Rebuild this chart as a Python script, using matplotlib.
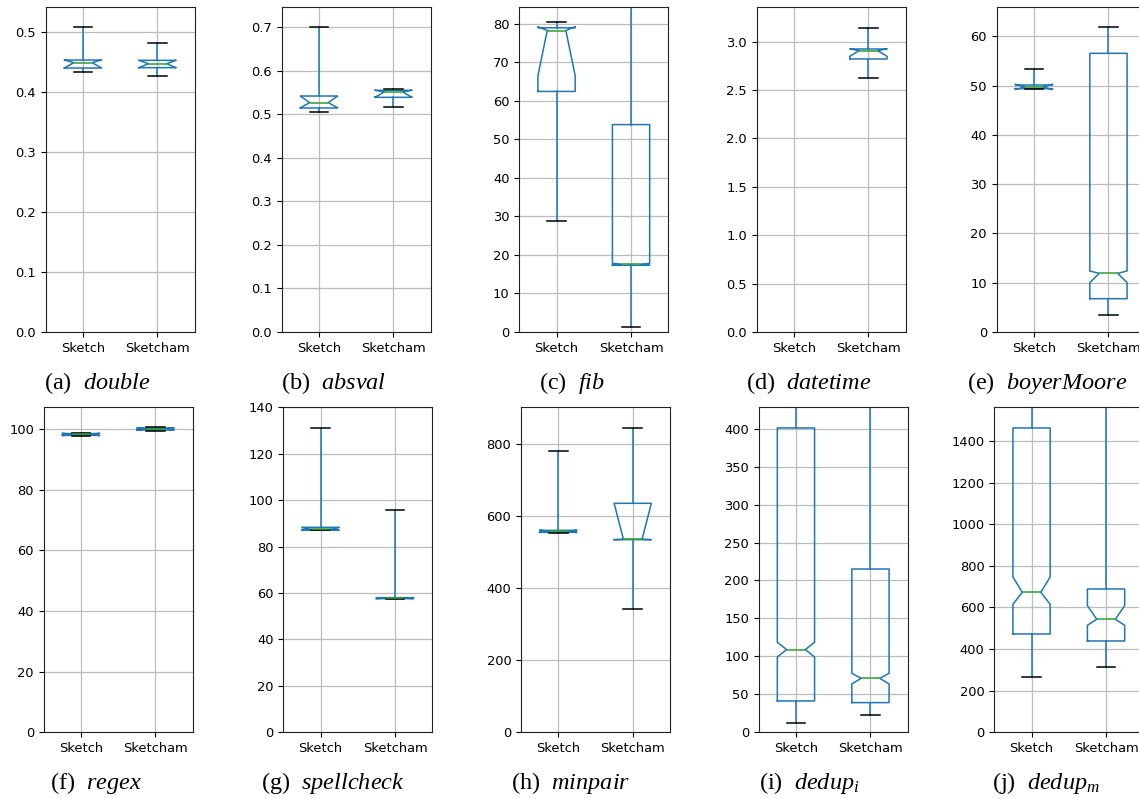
import matplotlib
matplotlib.use("Agg")
import matplotlib.pyplot as plt
import numpy as np

plt.rcParams['mathtext.fontset'] = 'custom'
plt.rcParams['mathtext.it'] = 'Liberation Serif:italic'
plt.rcParams['mathtext.rm'] = 'Liberation Serif'

# benchmark panels, two tools each
labels = ["Sketch", "Sketcham"]
names = ["double", "absval", "fib", "datetime", "boyerMoore",
         "regex", "spellcheck", "minpair", "dedup_i", "dedup_m"]
letters = list("abcdefghij")

# box statistics, one pair [Sketch, Sketcham] per panel
# (None = no data for that tool)
whishi = [[0.508, 0.481], [0.701, 0.559], [80.3, 95.0], [None, 3.146], [53.4, 61.8],
          [98.8, 100.6], [131.2, 95.6], [782.4, 846.3], [520.0, 520.0], [1800.0, 1800.0]]
q3 = [[0.4533, 0.4528], [0.5422, 0.5553], [78.9, 53.8], [None, 2.924], [50.12, 56.55],
      [98.5, 100.3], [88.3, 58.0], [561.0, 636.1], [400.9, 215.1], [1462.5, 688.8]]
cihi = [[0.4535, 0.4530], [0.5420, 0.5555], [79.2, 17.8], [None, 2.926], [50.3, 12.38],
        [98.6, 100.4], [88.2, 58.0], [561.5, 636.1], [118.6, 77.7], [746.5, 608.7]]
med = [[0.4489, 0.4472], [0.5270, 0.5514], [78.2, 17.6], [None, 2.907], [49.72, 11.9],
       [98.2, 100.0], [87.4, 57.8], [558.3, 536.1], [108.9, 71.1], [672.8, 543.0]]
cilo = [[0.4400, 0.4403], [0.5150, 0.5390], [66.5, 17.3], [None, 2.848], [49.2, 10.01],
        [97.8, 99.6], [87.0, 57.6], [555.0, 535.2], [99.2, 63.7], [615.1, 514.2]]
q1 = [[0.4400, 0.4406], [0.5147, 0.5392], [62.4, 17.3], [None, 2.821], [49.38, 6.76],
      [97.9, 99.7], [87.1, 57.6], [555.5, 535.2], [41.3, 39.1], [472.5, 438.9]]
whislo = [[0.4339, 0.4267], [0.5047, 0.517], [28.9, 1.38], [None, 2.621], [49.31, 3.45],
          [97.6, 99.5], [87.1, 57.6], [554.6, 343.5], [11.9, 22.8], [264.3, 315.6]]

ytop = [0.5417, 0.7467, 84.3, 3.358, 65.95, 107.15, 140, 902.8, 428.1, 1561.8]
ystep = [0.1, 0.1, 10, 0.5, 10, 20, 20, 200, 50, 200]
ymax_tick = [0.5, 0.7, 80, 3.0, 60, 100, 140, 800, 400, 1400]

W, H = 1139, 799
lefts = [45.7, 281.7, 519.3, 756.7, 996.7, 43.7, 283.3, 521.0, 758.7, 994.3]
tops = [7, 407.3]
bottoms = [332, 732.3]
cap_x = [97, 333.5, 571.7, 808.8, 1046.8, 96, 333, 570.8, 809, 1045.8]
cap_y = [383, 783]

fig = plt.figure(figsize=(W / 100, H / 100), dpi=100)

for i in range(10):
    row = i // 5
    ax = fig.add_axes([lefts[i] / W, 1 - bottoms[row] / H, 149 / W,
                       (bottoms[row] - tops[row]) / H])
    stats, pos = [], []
    for j in range(2):
        if med[i][j] is None:
            continue
        stats.append(dict(med=med[i][j], q1=q1[i][j], q3=q3[i][j],
                          whislo=whislo[i][j], whishi=whishi[i][j],
                          cilo=cilo[i][j], cihi=cihi[i][j], fliers=[]))
        pos.append(j + 1)
    ax.bxp(stats, positions=pos, widths=0.5, shownotches=True, showfliers=False,
           boxprops=dict(color='#1f77b4', lw=1.1), whiskerprops=dict(color='#1f77b4', lw=1.1),
           medianprops=dict(color='#2ca02c', lw=1.1), capprops=dict(color='k', lw=1.1))
    ax.set_xlim(0.5, 2.5)
    ax.set_xticks([1, 2])
    ax.set_xticklabels(labels)
    ax.set_ylim(0, ytop[i])
    ax.set_yticks(np.arange(0, ymax_tick[i] + ystep[i] / 2, ystep[i]))
    ax.grid(True, color='#bdbdbd', lw=0.9)
    ax.set_axisbelow(True)
    ax.tick_params(labelsize=9.4)
    for sp in ax.spines.values():
        sp.set_color('#222222')

    name = names[i]
    if "_" in name:
        base, sub = name.split("_")
        cap = r"(%s)  $\mathit{%s}_{%s}$" % (letters[i], base, sub)
    else:
        cap = r"(%s)  $\mathit{%s}$" % (letters[i], name)
    fig.text(cap_x[i] / W, 1 - cap_y[row] / H, cap, ha='center', va='center',
             fontsize=17.5, family='Liberation Serif')

fig.savefig("out.png", dpi=100)
